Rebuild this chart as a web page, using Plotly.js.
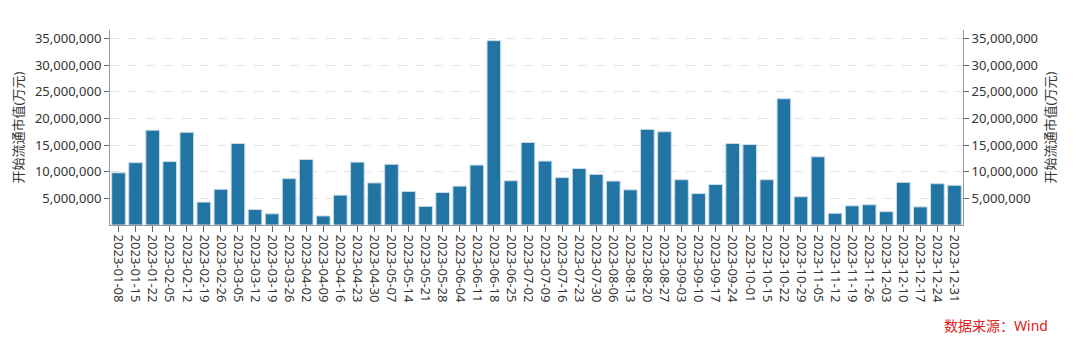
<!DOCTYPE html>
<html>
<head>
<meta charset="utf-8">
<script src="https://cdn.plot.ly/plotly-3.0.1.min.js"></script>
<style>html,body{margin:0;padding:0;background:#fff;}#chart{width:1080px;height:353px;}</style>
</head>
<body>
<div id="chart"></div>
<script>
const dates = ["2023-01-08","2023-01-15","2023-01-22","2023-02-05","2023-02-12","2023-02-19","2023-02-26","2023-03-05","2023-03-12","2023-03-19","2023-03-26","2023-04-02","2023-04-09","2023-04-16","2023-04-23","2023-04-30","2023-05-07","2023-05-14","2023-05-21","2023-05-28","2023-06-04","2023-06-11","2023-06-18","2023-06-25","2023-07-02","2023-07-09","2023-07-16","2023-07-23","2023-07-30","2023-08-06","2023-08-13","2023-08-20","2023-08-27","2023-09-03","2023-09-10","2023-09-17","2023-09-24","2023-10-01","2023-10-15","2023-10-22","2023-10-29","2023-11-05","2023-11-12","2023-11-19","2023-11-26","2023-12-03","2023-12-10","2023-12-17","2023-12-24","2023-12-31"];
const marketValue = [9800000,11700000,17800000,11900000,17400000,4300000,6700000,15300000,2900000,2100000,8700000,12300000,1700000,5600000,11800000,7900000,11400000,6300000,3500000,6100000,7300000,11250000,34600000,8300000,15500000,12000000,8900000,10600000,9500000,8250000,6600000,17950000,17500000,8500000,5900000,7600000,15300000,15100000,8500000,23700000,5300000,12800000,2200000,3600000,3800000,2500000,8000000,3400000,7750000,7450000];
const yTickVals = [5000000,10000000,15000000,20000000,25000000,30000000,35000000];
const yTitle = "开始流通市值(万元)";
const sourceText = "数据来源：Wind";

const fontFam = "'Noto Sans', 'Noto Sans CJK SC', sans-serif";
const yRange = [0, 36600000];
const axisCommon = {
  range: yRange,
  tickvals: yTickVals,
  tickformat: ",d",
  ticks: "outside",
  ticklen: 5,
  tickcolor: "#666",
  showline: true,
  linecolor: "#999",
  linewidth: 1,
  zeroline: false,
  tickfont: {size: 13, color: "#333", family: fontFam},
  fixedrange: true
};

const traces = [
  {
    type: "bar",
    x: dates,
    y: marketValue,
    marker: {color: "#2274a3", line: {color: "#c9dde9", width: 1}},
    hoverinfo: "x+y"
  },
  {
    type: "scatter",
    mode: "none",
    x: dates,
    y: marketValue,
    yaxis: "y2",
    hoverinfo: "skip",
    showlegend: false
  }
];

const layout = {
  width: 1080,
  height: 353,
  margin: {l: 110, r: 117, t: 30, b: 128},
  paper_bgcolor: "#fff",
  plot_bgcolor: "#fff",
  showlegend: false,
  bargap: 0.2,
  font: {family: fontFam, color: "#333"},
  xaxis: {
    type: "category",
    tickangle: 90,
    ticks: "outside",
    ticklen: 6,
    tickcolor: "#666",
    showline: true,
    linecolor: "#999",
    showgrid: false,
    tickfont: {size: 13, color: "#333", family: fontFam},
    fixedrange: true
  },
  yaxis: Object.assign({}, axisCommon, {
    side: "left",
    showgrid: true,
    gridcolor: "#e3e3e3",
    griddash: "dash",
    title: {text: yTitle, font: {size: 13, color: "#333", family: fontFam}, standoff: 8}
  }),
  yaxis2: Object.assign({}, axisCommon, {
    side: "right",
    overlaying: "y",
    showgrid: false,
    title: {text: yTitle, font: {size: 13, color: "#333", family: fontFam}, standoff: 8}
  }),
  annotations: [
    {
      text: sourceText,
      xref: "paper", yref: "paper",
      x: 1.102, y: -0.513,
      xanchor: "right", yanchor: "middle",
      showarrow: false,
      font: {size: 14, color: "#e02020", family: fontFam}
    }
  ]
};

Plotly.newPlot("chart", traces, layout, {displayModeBar: false, staticPlot: true});
</script>
</body>
</html>
